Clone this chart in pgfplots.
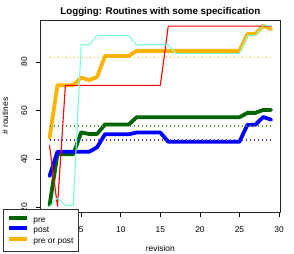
\documentclass[border=0pt]{standalone}
\usepackage{fontspec}
\setmainfont{Liberation Sans}
\usepackage{pgfplots}
\pgfplotsset{compat=1.18}
\definecolor{rgreen}{RGB}{0,100,0}
\definecolor{rblue}{RGB}{0,0,255}
\definecolor{rorange}{RGB}{255,178,0}
\definecolor{raqua}{RGB}{127,255,212}
\begin{document}
\begin{tikzpicture}[x=1bp,y=1bp]
\begin{axis}[
  at={(0,0)}, anchor=south west,
  scale only axis, width=239.3bp, height=192.3bp,
  xmin=-0.12, xmax=30.12, ymin=18.1, ymax=97.2,
  xtick={5,10,...,30}, ytick={20,40,60,80},
  xtick pos=bottom, ytick pos=left,
  tick align=outside, major tick length=4.4bp,
  tick style={black, line width=0.6bp},
  axis line style={black!85, line width=0.8bp},
  tick label style={font=\fontsize{8.4}{10}\selectfont, inner sep=0pt},
  /pgf/number format/assume math mode=true,
  xticklabel style={anchor=north, yshift=-9.8bp},
  yticklabel style={xshift=-9bp, rotate=90, anchor=south},
  title={Logging: Routines with some specification},
  title style={font=\bfseries\fontsize{9.8}{12}\selectfont, at={(axis description cs:0.5,1)}, anchor=base, inner sep=0pt},
  xlabel={revision},
  xlabel style={font=\fontsize{8.4}{10}\selectfont, at={(axis description cs:0.5,0)}, anchor=base, yshift=-39.4bp, inner sep=0pt},
  ylabel={\# routines},
  ylabel style={font=\fontsize{8.4}{10}\selectfont, at={([xshift=-32.5bp]axis description cs:0,0.5)}, anchor=base, inner sep=0pt},
  legend style={at={(axis description cs:-0.159,-0.2064)}, anchor=south west,
    draw=black!80, fill=white, line width=0.6bp,
    font=\fontsize{8.4}{10}\selectfont, inner xsep=4.5bp, inner ysep=6.6bp,
    nodes={inner sep=0pt, text height=6bp, text depth=1.7bp},
    row sep=2.3bp, /tikz/every odd column/.append style={column sep=4.2bp}},
  legend cell align=left,
  legend image code/.code={\draw[#1] (0bp,2.5bp) -- (18bp,2.5bp);},
  line join=round, line cap=round,
]
\addplot[rgreen, line width=3.8bp] coordinates {
(1,21) (2,42) (3,42) (4,42) (5,51) (6,50.3) (7,50.3) (8,54.2) (9,54.2) (10,54.2) (11,54.2)
(12,57.2) (13,57.2) (14,57.2) (15,57.2) (16,57.2) (17,57.2) (18,57.2) (19,57.2) (20,57.2)
(21,57.2) (22,57.2) (23,57.2) (24,57.2) (25,57.2) (26,59) (27,59) (28,60.2) (29,60.2)};
\addlegendentry{pre}
\addplot[rblue, line width=3.8bp] coordinates {
(1,33) (2,43) (3,43) (4,43) (5,43) (6,43) (7,44.8) (8,50.2) (9,50.2) (10,50.2) (11,50.2)
(12,50.9) (13,50.9) (14,50.9) (15,50.9) (16,47.1) (17,47.1) (18,47.1) (19,47.1) (20,47.1)
(21,47.1) (22,47.1) (23,47.1) (24,47.1) (25,47.1) (26,54.1) (27,54.1) (28,57.3) (29,56.2)};
\addlegendentry{post}
\addplot[rorange, line width=3.8bp] coordinates {
(1,48.7) (2,70.4) (3,70.4) (4,70.4) (5,73.5) (6,72.5) (7,73.7) (8,82.4) (9,82.4) (10,82.4) (11,82.4)
(12,84.5) (13,84.5) (14,84.5) (15,84.5) (16,84.5) (17,84.5) (18,84.5) (19,84.5) (20,84.5)
(21,84.5) (22,84.5) (23,84.5) (24,84.5) (25,84.5) (26,91.4) (27,91.4) (28,94.8) (29,93.5)};
\addlegendentry{pre or post}
\addplot[color=rgreen!70, line width=1.3bp, line cap=butt, dash pattern=on 1.6bp off 2.4bp, forget plot] coordinates {(1,53.6) (29,53.6)};
\addplot[color=rblue!80, line width=1.3bp, line cap=butt, dash pattern=on 1.6bp off 2.4bp, forget plot] coordinates {(1,47.9) (29,47.9)};
\addplot[color=rorange, line width=1.3bp, line cap=butt, dash pattern=on 1.6bp off 2.4bp, forget plot] coordinates {(1,81.7) (29,81.7)};
\addplot[red, line width=1.1bp, forget plot] coordinates {
(1,45.5) (2,20.6) (3,70.3) (4,70.3) (5,70.3) (6,70.3) (7,70.3) (8,70.3) (9,70.3) (10,70.3) (11,70.3)
(12,70.3) (13,70.3) (14,70.3) (15,70.3) (16,94.7) (17,94.7) (18,94.7) (19,94.7) (20,94.7)
(21,94.7) (22,94.7) (23,94.7) (24,94.7) (25,94.7) (26,94.7) (27,94.7) (28,94.7) (29,94.7)};
\addplot[raqua, line width=1.1bp, forget plot] coordinates {
(1,20.5) (2,24) (3,21) (4,21) (5,87) (6,87) (7,90.8) (8,90.8) (9,90.8) (10,90.8) (11,90.8)
(12,87) (13,87) (14,87) (15,87) (16,87) (17,83.4) (18,83.4) (19,83.4) (20,83.4)
(21,83.4) (22,83.4) (23,83.4) (24,83.4) (25,83.4) (26,90.8) (27,90.8) (28,95) (29,94.8)};
\end{axis}
\pgfresetboundingbox
\path[use as bounding box] (-40.7,-41.7) rectangle (253.3,212.3);
\end{tikzpicture}
\end{document}
